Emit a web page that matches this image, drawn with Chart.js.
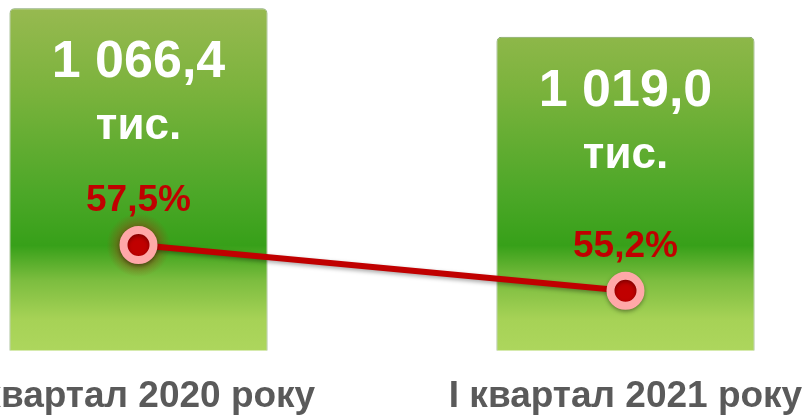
<!DOCTYPE html>
<html>
<head>
    <title>Квартали</title>
    <style>
        html, body {
            margin: 0;
            padding: 0;
            background: #ffffff;
        }

        .frame {
            position: relative;
            width: 805px;
            height: 417px;
            overflow: hidden;
        }

        /* canvas is wider and taller than the frame so the plot lines up */
        .chart-container {
            position: absolute;
            left: -111px;
            top: 0;
            width: 981px;
            height: 443px;
        }
    </style>
    <script src="https://cdn.jsdelivr.net/npm/chart.js"></script>
</head>
<body>
    <div class="frame">
        <div class="chart-container">
            <canvas id="quarterChart"></canvas>
        </div>
    </div>

    <script>
        // Data
        const categories = ['І квартал 2020 року', 'І квартал 2021 року'];
        const amounts = [1066.4, 1019.0];
        const amountLabels = ['1 066,4', '1 019,0'];
        const unitLabel = 'тис.';
        const shares = [57.5, 55.2];

        const FONT = "'Liberation Sans', Arial, sans-serif";

        // Vertical green gradient across the chart area
        function barGradient(context) {
            const area = context.chart.chartArea;
            if (!area) return '#6ab234';
            const g = context.chart.ctx.createLinearGradient(0, area.top, 0, area.bottom);
            g.addColorStop(0, '#9aba52');
            g.addColorStop(0.25, '#7cb33d');
            g.addColorStop(0.56, '#4ba727');
            g.addColorStop(0.7, '#37a019');
            g.addColorStop(0.8, '#7cbd3f');
            g.addColorStop(0.91, '#a6d256');
            g.addColorStop(1, '#add65d');
            return g;
        }

        // Glow under the first point and line shadow
        const lineEffects = {
            id: 'lineEffects',
            beforeDatasetDraw(chart, args) {
                if (args.index !== 1) return;
                const ctx = chart.ctx;
                const p = chart.getDatasetMeta(1).data[0];
                ctx.save();
                const r = ctx.createRadialGradient(p.x, p.y, 10, p.x, p.y, 32);
                r.addColorStop(0, 'rgba(140, 60, 20, 0.85)');
                r.addColorStop(0.5, 'rgba(140, 70, 20, 0.45)');
                r.addColorStop(1, 'rgba(140, 80, 20, 0)');
                ctx.fillStyle = r;
                ctx.beginPath();
                ctx.arc(p.x, p.y, 32, 0, Math.PI * 2);
                ctx.fill();
                ctx.restore();
                ctx.save();
                ctx.shadowColor = 'rgba(0, 0, 0, 0.35)';
                ctx.shadowBlur = 4;
                ctx.shadowOffsetY = 2;
            },
            afterDatasetDraw(chart, args) {
                if (args.index !== 1) return;
                chart.ctx.restore();
            }
        };

        // Text inside the bars and above the points
        const valueLabels = {
            id: 'valueLabels',
            afterDatasetsDraw(chart) {
                const ctx = chart.ctx;
                ctx.save();
                ctx.textAlign = 'center';
                ctx.textBaseline = 'alphabetic';

                chart.getDatasetMeta(0).data.forEach((bar, i) => {
                    ctx.fillStyle = '#ffffff';
                    ctx.font = 'bold 52px ' + FONT;
                    ctx.fillText(amountLabels[i], bar.x, bar.y + 69);
                    ctx.font = 'bold 44px ' + FONT;
                    ctx.fillText(unitLabel, bar.x, bar.y + 131);
                });

                chart.getDatasetMeta(1).data.forEach((pt, i) => {
                    ctx.fillStyle = '#c00000';
                    ctx.font = 'bold 37px ' + FONT;
                    const txt = shares[i].toFixed(1).replace('.', ',') + '%';
                    ctx.fillText(txt, pt.x, pt.y - 34);
                });
                ctx.restore();
            }
        };

        const ctx = document.getElementById('quarterChart').getContext('2d');
        new Chart(ctx, {
            data: {
                labels: categories,
                datasets: [{
                    type: 'bar',
                    label: 'Кількість',
                    data: amounts,
                    yAxisID: 'y',
                    backgroundColor: barGradient,
                    borderColor: 'rgba(70, 120, 35, 0.7)',
                    borderWidth: { left: 1, right: 1, top: 1, bottom: 0 },
                    borderRadius: { topLeft: 5, topRight: 5 },
                    borderSkipped: 'bottom',
                    categoryPercentage: 1,
                    barPercentage: 0.53,
                    order: 2
                }, {
                    type: 'line',
                    label: 'Частка',
                    data: shares,
                    yAxisID: 'y2',
                    borderColor: '#c00000',
                    borderWidth: 6,
                    pointRadius: 15,
                    pointBorderWidth: 8,
                    pointBackgroundColor: '#c00000',
                    pointBorderColor: '#ffa8a8',
                    tension: 0,
                    order: 1
                }]
            },
            options: {
                responsive: true,
                maintainAspectRatio: false,
                animation: false,
                layout: {
                    autoPadding: false,
                    padding: { left: 6, right: 1, top: 0, bottom: 0 }
                },
                plugins: {
                    legend: { display: false },
                    tooltip: { enabled: false }
                },
                scales: {
                    x: {
                        grid: { display: false, drawTicks: false },
                        border: { display: false },
                        ticks: {
                            color: '#5a5a5a',
                            font: { family: FONT, size: 37, weight: 'bold' },
                            padding: 24,
                            maxRotation: 0,
                            autoSkip: false
                        },
                        // no extra side padding for the long labels
                        afterFit: (scale) => {
                            scale.paddingLeft = 0;
                            scale.paddingRight = 0;
                        }
                    },
                    y: {
                        display: false,
                        min: 500,
                        max: 1080
                    },
                    y2: {
                        display: false,
                        min: 52.2,
                        max: 69.8
                    }
                }
            },
            plugins: [lineEffects, valueLabels]
        });
    </script>
</body>
</html>
